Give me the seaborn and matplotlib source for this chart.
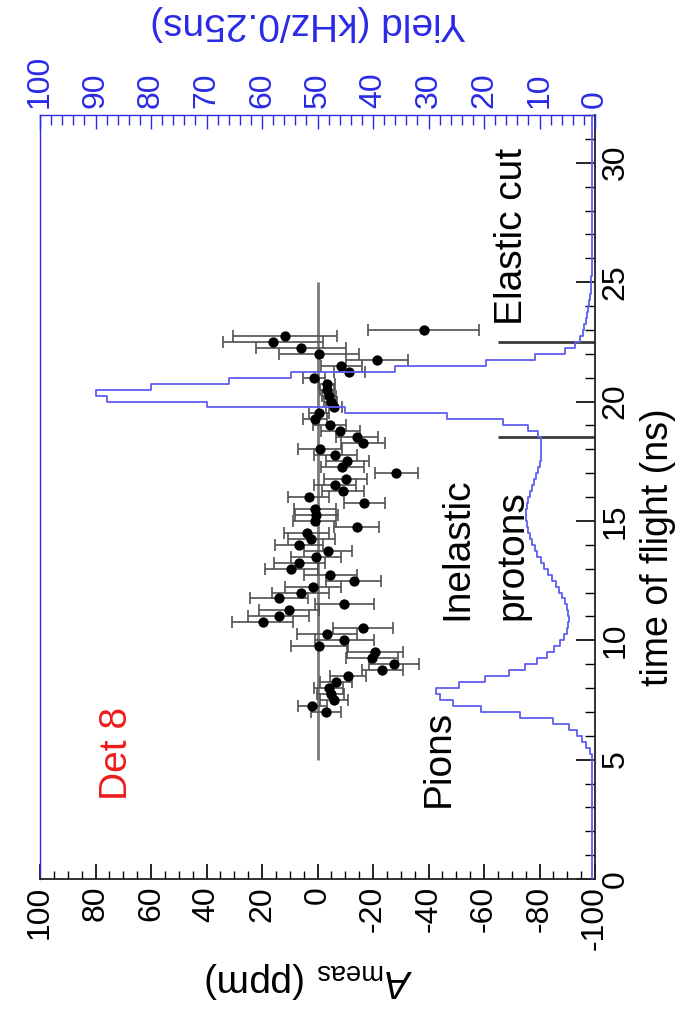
import numpy as np
import matplotlib
matplotlib.use("Agg")
import matplotlib.pyplot as plt
import seaborn as sns
from matplotlib.ticker import MultipleLocator

# ---------------- data ----------------
# time-of-flight bin centres (ns) of the measured asymmetry points
tof = [7.00, 7.25, 7.50, 7.75, 8.00, 8.25, 8.50, 8.75, 9.00, 9.25, 9.50, 9.75,
       10.00, 10.25, 10.50, 10.75, 11.00, 11.25, 11.50, 11.75, 12.00, 12.25, 12.50, 12.75,
       13.00, 13.25, 13.50, 13.75, 14.00, 14.25, 14.50, 14.75, 15.00, 15.25, 15.50, 15.75,
       16.00, 16.25, 16.50, 16.75, 17.00, 17.25, 17.50, 17.75, 18.00, 18.25, 18.50, 18.75,
       19.00, 19.25, 19.50, 19.75, 20.00, 20.25, 20.50, 20.75, 21.00, 21.25, 21.50, 21.75,
       22.00, 22.25, 22.50, 22.75, 23.00]

# measured asymmetry (ppm)
a_meas = [-2.9, 1.9, -5.9, -4.7, -4.1, -6.8, -10.9, -23.4, -27.6, -19.6, -20.8, -0.7,
          -9.7, -3.5, -16.4, 19.7, 13.9, 10.3, -9.7, 14.0, 6.1, 1.6, -13.0, -4.6,
          9.4, 6.6, 0.4, -3.8, 6.7, 2.2, 3.9, -14.1, 1.0, 0.4, 0.9, -16.8,
          3.2, -9.2, -6.2, -10.2, -28.4, -9.0, -10.7, -6.4, -0.8, -16.4, -14.3, -8.2,
          -4.4, 0.9, -0.5, -5.9, -4.7, -4.1, -3.5, -3.5, 1.4, -11.5, -8.6, -21.4,
          -0.5, 6.0, 15.9, 11.7, -38.2]

# statistical uncertainty on the asymmetry (ppm)
a_err = [5.4, 5.2, 5.0, 5.0, 5.2, 5.8, 6.5, 7.5, 9.0, 9.5, 10.0, 10.4,
         10.6, 10.8, 10.8, 11.0, 11.0, 10.8, 10.5, 10.4, 10.2, 10.0, 9.8, 9.6,
         9.4, 9.2, 9.0, 8.8, 8.6, 8.4, 8.2, 8.0, 7.8, 7.7, 7.6, 7.4,
         7.5, 7.6, 7.6, 7.7, 7.7, 7.7, 7.8, 7.8, 8.0, 8.0, 7.5, 7.0,
         6.0, 4.5, 3.5, 2.8, 2.5, 2.5, 2.5, 2.8, 4.0, 5.5, 7.5, 11.3,
         14.4, 16.2, 18.0, 18.9, 19.9]

# detector yield histogram, 0.25 ns bins starting at 4.0 ns (kHz / 0.25 ns)
yield_start = 4.0
yield_width = 0.25
yield_vals = [0.5, 0.5, 0.5, 0.5,      # 4 ns
              0.6, 0.9, 1.6, 2.3,      # 5 ns
              3.3, 4.6, 7.5, 13.5,     # 6 ns
              20.5, 25.5, 28.0, 28.6,  # 7 ns
              24.5, 19.8, 15.5, 12.6,  # 8 ns
              10.5, 8.7, 7.3, 6.3,     # 9 ns
              5.6, 5.1, 4.8, 4.7,      # 10 ns
              4.8, 5.0, 5.4, 5.9,      # 11 ns
              6.5, 7.1, 7.8, 8.5,      # 12 ns
              9.2, 9.8, 10.4, 10.9,    # 13 ns
              11.4, 11.8, 12.1, 12.3,  # 14 ns
              12.4, 12.4, 12.3, 12.1,  # 15 ns
              11.8, 11.4, 11.0, 10.6,  # 16 ns
              10.3, 10.0, 9.8, 9.7,    # 17 ns
              9.7, 9.8, 10.2, 12.0,    # 18 ns
              16.5, 26.7, 45.0, 70.0,  # 19 ns
              88.0, 90.0, 80.0, 66.0,  # 20 ns
              54.8, 36.0, 19.7, 10.8,  # 21 ns
              5.4, 3.6, 2.7, 2.2,      # 22 ns
              1.9, 1.6, 1.4, 1.2,      # 23 ns
              1.0, 0.9, 0.8, 0.7,      # 24 ns
              0.7, 0.6, 0.6, 0.5,      # 25 ns
              0.5, 0.5, 0.5, 0.5]      # 26 ns
yield_floor = 0.5

elastic_cut = [18.5, 22.5]   # ns
zero_line_span = (5.0, 25.0)  # ns

# ---------------- style ----------------
sns.set_theme(style="white")
plt.rcParams["font.family"] = ["Liberation Sans", "DejaVu Sans"]
plt.rcParams["mathtext.fontset"] = "custom"
plt.rcParams["mathtext.rm"] = "Liberation Sans"
plt.rcParams["mathtext.it"] = "Liberation Sans:italic"
plt.rcParams["mathtext.bf"] = "Liberation Sans:bold"
plt.rcParams["axes.unicode_minus"] = False

BLUE = "#2a2ae6"
CURVE = "#5e5ef2"
TICK_FS = 23
LAB_FS = 28

W, H = 677, 1010
fig = plt.figure(figsize=(W / 100, H / 100), dpi=100)
fig.patch.set_facecolor("white")
ax = fig.add_axes([40 / W, 131 / H, 555 / W, 764 / H])
ax.set_facecolor("white")

# asymmetry vs time of flight (A on the horizontal axis, reversed)
ax.errorbar(a_meas, tof, xerr=a_err, fmt="none", ecolor="#505050",
            elinewidth=1.2, capsize=4.5, capthick=1.2, zorder=2)
sns.scatterplot(x=a_meas, y=tof, ax=ax, color="black", s=55,
                edgecolor="black", linewidth=0, zorder=3, legend=False)

ax.vlines(0, *zero_line_span, color="#7a7a7a", lw=2.0, zorder=1)
ax.hlines(elastic_cut, -65, -100, color="#3a3a3a", lw=2.0, zorder=1)

ax.set_xlim(100, -100)
ax.set_ylim(0, 32)

ax.xaxis.set_major_locator(MultipleLocator(20))
ax.xaxis.set_minor_locator(MultipleLocator(5))
ax.yaxis.set_major_locator(MultipleLocator(5))
ax.yaxis.set_minor_locator(MultipleLocator(1))
ax.yaxis.tick_right()
ax.tick_params(axis="x", which="both", direction="in", bottom=True, top=False,
               labelbottom=True, labeltop=False, colors="black",
               labelsize=TICK_FS, labelrotation=90, pad=5)
ax.tick_params(axis="x", which="major", length=11, width=1.2)
ax.tick_params(axis="x", which="minor", length=6, width=1.0)
ax.tick_params(axis="y", which="both", direction="in", left=False, right=True,
               labelleft=False, labelright=True, colors="black",
               labelsize=TICK_FS, labelrotation=90, pad=4)
ax.tick_params(axis="y", which="major", length=14, width=1.2)
ax.tick_params(axis="y", which="minor", length=7, width=1.0)
for lbl in ax.get_yticklabels():
    lbl.set_va("center")
ax.set_xlabel("")
ax.set_ylabel("")

for side in ("bottom", "right"):
    ax.spines[side].set_color("#222222")
    ax.spines[side].set_linewidth(1.3)
ax.spines["left"].set_color(BLUE)
ax.spines["left"].set_linewidth(1.0)
ax.spines["top"].set_visible(False)

# yield histogram on a twin axis (top scale, reversed)
edges = np.concatenate([[0.0],
                        yield_start + yield_width * np.arange(len(yield_vals) + 1),
                        [32.0]])
vals = np.array([yield_floor] + yield_vals + [yield_floor])
step_t = np.repeat(edges, 2)[1:-1]
step_y = np.repeat(vals, 2)

ax2 = ax.twiny()
sns.lineplot(x=step_y, y=step_t, ax=ax2, sort=False, estimator=None,
             color=CURVE, lw=1.3, zorder=4)
ax2.set_xlim(100, 0)
ax2.set_ylim(0, 32)
ax2.set_xlabel("")
ax2.set_ylabel("")
ax2.xaxis.set_major_locator(MultipleLocator(10))
ax2.xaxis.set_minor_locator(MultipleLocator(2))
ax2.tick_params(axis="x", which="both", direction="in", top=True, bottom=False,
                labeltop=True, labelbottom=False, colors=BLUE,
                labelsize=TICK_FS, labelrotation=90, pad=5)
ax2.tick_params(axis="x", which="major", length=10, width=1.0)
ax2.tick_params(axis="x", which="minor", length=7, width=1.0)
ax2.tick_params(axis="y", which="both", left=False, right=False,
                labelleft=False, labelright=False)
for side in ("left", "right", "bottom"):
    ax2.spines[side].set_visible(False)
ax2.spines["top"].set_color(BLUE)
ax2.spines["top"].set_linewidth(1.0)

# annotations
ax.text(72.2, 3.3, "Det 8", color="#ee1c1c", rotation=90, ha="center",
        va="bottom", fontsize=LAB_FS)
ax.text(-43.8, 3.0, "Pions", rotation=90, ha="center", va="bottom",
        fontsize=LAB_FS, color="black")
ax.text(-50.3, 10.85, "Inelastic", rotation=90, ha="center", va="bottom",
        fontsize=LAB_FS, color="black")
ax.text(-70.4, 10.85, "protons", rotation=90, ha="center", va="bottom",
        fontsize=LAB_FS, color="black")
ax.text(-70.0, 23.2, "Elastic cut", rotation=90, ha="center", va="bottom",
        fontsize=LAB_FS, color="black")

# axis titles
fig.text(308 / W, 1 - 23 / H, "Yield (kHz/0.25ns)", rotation=180, color=BLUE,
         ha="center", va="center", fontsize=LAB_FS)
fig.text(308 / W, 1 - 980 / H, r"$A_{\mathrm{meas}}$ (ppm)", rotation=180,
         color="black", ha="center", va="center", fontsize=LAB_FS)
fig.text(658 / W, 1 - 547 / H, "time of flight (ns)", rotation=90,
         color="black", ha="center", va="center", fontsize=LAB_FS - 1)

fig.savefig("out.png", dpi=100, facecolor="white")
